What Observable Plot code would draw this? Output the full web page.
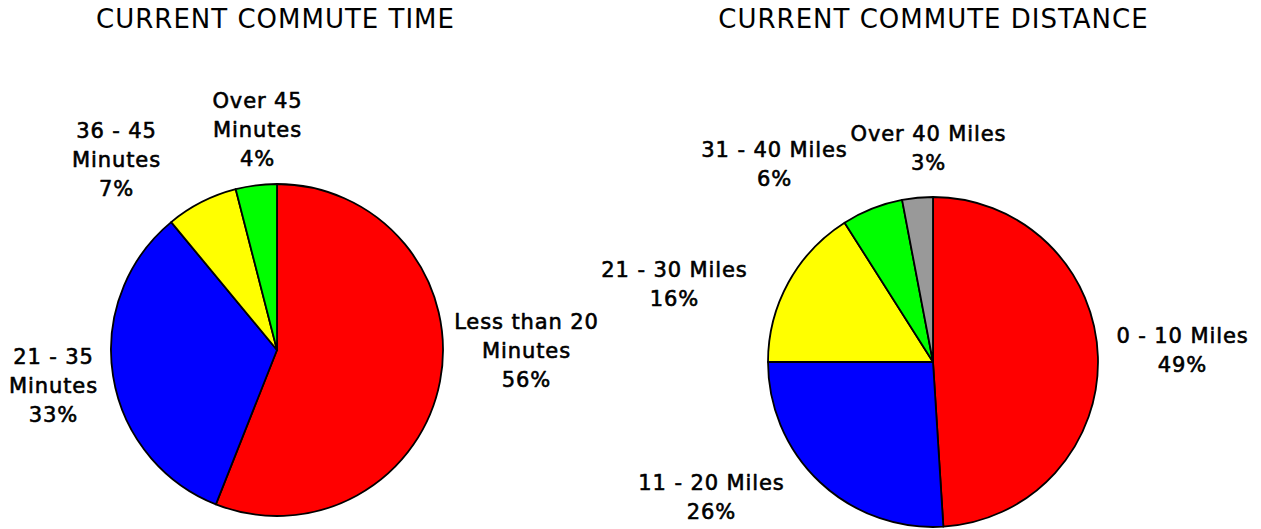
<!DOCTYPE html>
<html>
<head>
<meta charset="utf-8">
<script src="https://cdn.jsdelivr.net/npm/d3@7"></script>
<script src="https://cdn.jsdelivr.net/npm/@observablehq/plot@0.6"></script>
<style>
  html, body { margin: 0; padding: 0; background: #fff; }
  #chart svg { display: block; }
</style>
</head>
<body>
<div id="chart"></div>
<script>
// ---- data ----
const timeTitle = "CURRENT COMMUTE TIME";
const timeCategories = ["Less than 20 Minutes", "21 - 35 Minutes", "36 - 45 Minutes", "Over 45 Minutes"];
const timeLabels = ["Less than 20\nMinutes", "21 - 35\nMinutes", "36 - 45\nMinutes", "Over 45\nMinutes"];
const timeValues = [56, 33, 7, 4];
const timeColors = ["#ff0000", "#0000ff", "#ffff00", "#00ff00"];

const distTitle = "CURRENT COMMUTE DISTANCE";
const distCategories = ["0 - 10 Miles", "11 - 20 Miles", "21 - 30 Miles", "31 - 40 Miles", "Over 40 Miles"];
const distLabels = ["0 - 10 Miles", "11 - 20 Miles", "21 - 30 Miles", "31 - 40 Miles", "Over 40 Miles"];
const distValues = [49, 26, 16, 6, 3];
const distColors = ["#ff0000", "#0000ff", "#ffff00", "#00ff00", "#999999"];

// ---- layout (pixel-like coordinate frame) ----
const W = 1261, H = 529;
const timePie = {cx: 277, cy: 350, r: 166};
const distPie = {cx: 933, cy: 362, r: 165};
const timeLabelPos = [[526, 348], [53, 383], [116, 157], [257, 127]];
const distLabelPos = [[1182, 348], [711, 495], [674, 282], [774, 162], [928, 146]];

const labelRows = [
  ...timeLabels.map((l, i) => ({text: `${l}\n${timeValues[i]}%`, x: timeLabelPos[i][0], y: timeLabelPos[i][1]})),
  ...distLabels.map((l, i) => ({text: `${l}\n${distValues[i]}%`, x: distLabelPos[i][0], y: distLabelPos[i][1]}))
];
const titleRows = [
  {text: timeTitle, x: 275, y: 19},
  {text: distTitle, x: 933, y: 19}
];

function pieMark(cats, vals, colors, pos) {
  return (index, scales) => {
    const data = cats.map((c, i) => ({c, v: vals[i], color: colors[i]}));
    const arcs = d3.pie().sort(null).value(d => d.v)(data);
    const arc = d3.arc().innerRadius(0).outerRadius(pos.r);
    const g = d3.create("svg:g")
      .attr("transform", `translate(${scales.x(pos.cx)},${scales.y(pos.cy)})`);
    g.selectAll("path").data(arcs).join("path")
      .attr("d", arc)
      .attr("fill", d => d.data.color)
      .attr("stroke", "#000")
      .attr("stroke-width", 1.8)
      .attr("stroke-linejoin", "round")
      .append("title").text(d => `${d.data.c}: ${d.data.v}%`);
    return g.node();
  };
}

const chart = Plot.plot({
  width: W,
  height: H,
  margin: 0,
  x: {domain: [0, W], range: [0, W], axis: null},
  y: {domain: [0, H], range: [0, H], axis: null},
  style: {fontFamily: "'DejaVu Sans', Verdana, sans-serif", background: "#fff"},
  marks: [
    pieMark(timeCategories, timeValues, timeColors, timePie),
    pieMark(distCategories, distValues, distColors, distPie),
    Plot.text(labelRows, {
      x: "x", y: "y", text: "text",
      fontSize: 21, lineHeight: 1.38, textAnchor: "middle", lineAnchor: "middle",
      fill: "#000", stroke: "#000", strokeWidth: 0.6, className: "lbl"
    }),
    Plot.text(titleRows, {
      x: "x", y: "y", text: "text",
      fontSize: 26, textAnchor: "middle", lineAnchor: "middle", fill: "#000", className: "ttl"
    })
  ]
});
d3.select(chart).selectAll(".lbl text").style("letter-spacing", "0.9px");
d3.select(chart).selectAll(".ttl text").style("letter-spacing", "1px");
document.getElementById("chart").append(chart);
</script>
</body>
</html>
